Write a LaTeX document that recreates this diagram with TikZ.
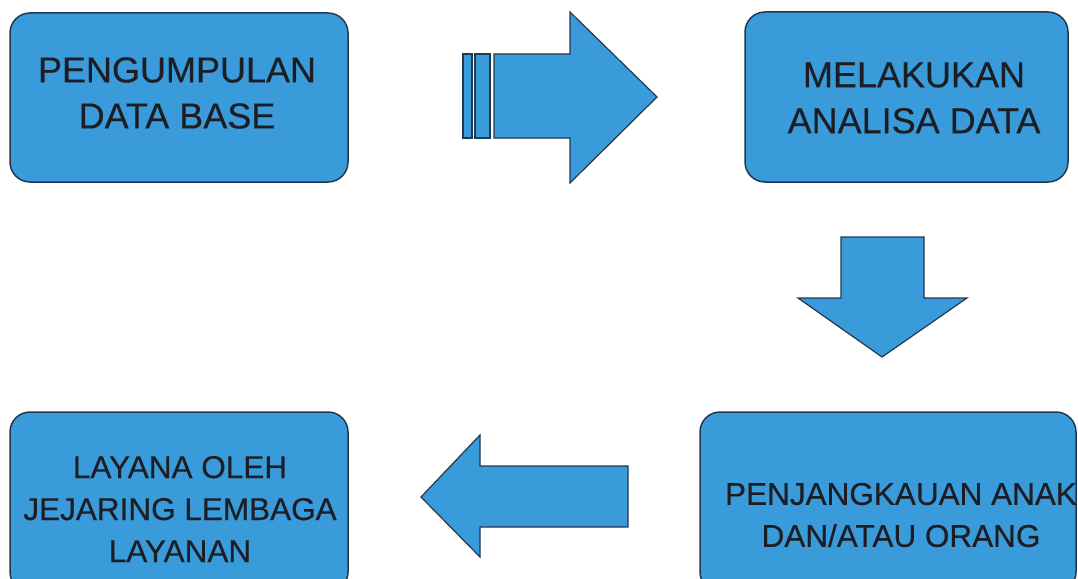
\documentclass[tikz,border=0pt]{standalone}
\usepackage{fontspec}
\setmainfont{Liberation Sans}
\newfontfamily\captionface[FakeBold=0.35]{Liberation Sans}
\definecolor{boxblue}{RGB}{58,155,218}
\definecolor{edgeblue}{RGB}{34,56,80}
\definecolor{inkdark}{RGB}{28,30,36}
\tikzset{
  panel/.style={draw=edgeblue, line width=1.5pt, fill=boxblue, rounded corners=20pt,
                rectangle, inner sep=0pt},
  bigtext/.style={font=\captionface\fontsize{36}{46}\selectfont, align=center, text=inkdark, inner sep=0pt},
  smalltext/.style={font=\captionface\fontsize{31.5}{42}\selectfont, align=center, text=inkdark, inner sep=0pt},
  blockarrow/.style={draw=edgeblue, line width=1.2pt, fill=boxblue, line join=miter}
}
\begin{document}
\begin{tikzpicture}[x=1pt,y=-1pt]
\useasboundingbox (0,0) rectangle (1078,578);
\clip (0,0) rectangle (1078,578);

% the four process boxes
\node[panel, minimum width=338pt, minimum height=169pt] (collect) at (179,97.5) {};
\node[panel, minimum width=323pt, minimum height=170pt] (analyse) at (906.5,97) {};
\node[panel, minimum width=376pt, minimum height=180pt] (outreach) at (888,502) {};
\node[panel, minimum width=338pt, minimum height=180pt] (service) at (179,502) {};

% box captions
\node[bigtext] (collectText) at (177,93) {PENGUMPULAN\\DATA BASE};
\node[bigtext] (analyseText) at (914,98) {MELAKUKAN\\ANALISA DATA};
\node[smalltext] (outreachText) at (901,515) {PENJANGKAUAN ANAK\\DAN/ATAU ORANG};
\node[smalltext] (serviceText) at (180,509) {LAYANA OLEH\\JEJARING LEMBAGA\\LAYANAN};

% striped block arrow to the right
\draw[blockarrow] (463,54) rectangle (472,138);
\draw[blockarrow] (475,54) rectangle (490,138);
\draw[blockarrow] (494,54) -- (570,54) -- (570,12) -- (657,97) -- (570,183)
  -- (570,138) -- (494,138) -- cycle;

% block arrow pointing down
\draw[blockarrow] (841,237) -- (924,237) -- (924,298) -- (967,298) -- (882,357)
  -- (798,298) -- (841,298) -- cycle;

% block arrow pointing left
\draw[blockarrow] (628,466) -- (480,466) -- (480,435) -- (421,497) -- (480,557)
  -- (480,527) -- (628,527) -- cycle;
\end{tikzpicture}
\end{document}
